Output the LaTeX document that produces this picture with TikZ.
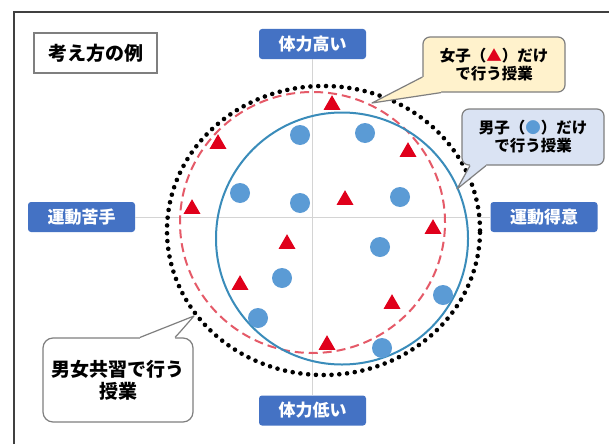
\documentclass[tikz,border=0pt]{standalone}
\usepackage{fontspec}
\newfontfamily\jp{Noto Sans CJK JP}
\usetikzlibrary{shapes.geometric}
\definecolor{labblue}{HTML}{4472C4}
\definecolor{trired}{HTML}{E0001B}
\definecolor{dotblue}{HTML}{5B9BD5}
\definecolor{ringblue}{HTML}{3A8CBA}
\definecolor{ringred}{HTML}{E55A68}
\definecolor{yelfill}{HTML}{FFF2CC}
\definecolor{bluefill}{HTML}{DAE3F3}
\definecolor{edgegray}{HTML}{7F7F7F}
\definecolor{framegray}{HTML}{404040}
\definecolor{axisgray}{HTML}{D4D4D4}
\tikzset{
  bluelab/.style={fill=labblue, text=white, rounded corners=3pt, minimum width=107pt,
    minimum height=30pt, inner sep=0pt, font=\jp\bfseries\fontsize{17}{20}\selectfont},
  tri/.style={regular polygon, regular polygon sides=3, fill=trired, inner sep=0pt, minimum size=19.6pt},
  dotc/.style={circle, fill=dotblue, inner sep=0pt, minimum size=20pt},
  callbox/.style={draw=edgegray, line width=1.2pt, rounded corners=7pt, inner sep=0pt, align=center},
  tail/.style={draw=edgegray, line width=1.2pt, line join=round},
}
\begin{document}
\begin{tikzpicture}[x=1pt,y=-1pt]
\useasboundingbox (0,0) rectangle (609,444);
\fill[white] (0,0) rectangle (609,444);
% frame (cropped on right and bottom)
\draw[framegray, line width=2.5pt] (14,444) -- (14,12) -- (609,12);

% axis labels
\node[bluelab] (hi) at (312.5,44) {体力高い};
\node[bluelab] (lo) at (312.5,410.5) {体力低い};
\node[bluelab] (weak) at (81.5,217) {運動苦手};
\node[bluelab] (strong) at (544,217) {運動得意};
\draw[axisgray, line width=1pt] (hi.south) -- (lo.north);
\draw[axisgray, line width=1pt] (weak.east) -- (strong.west);

% rings
\node[ellipse, draw=black, line width=4.6pt, line cap=round, dash pattern=on 0pt off 7.8pt,
  minimum width=313pt, minimum height=289pt, inner sep=0pt] (all) at (323.5,230.5) {};
\node[ellipse, draw=ringred, line width=2pt, dash pattern=on 9pt off 5pt,
  minimum width=265pt, minimum height=261pt, inner sep=0pt] (girls) at (312.5,222.5) {};
\node[circle, draw=ringblue, line width=2pt,
  minimum size=252pt, inner sep=0pt] (boys) at (342,238.5) {};

% triangles (girls)
\node[tri] (t1) at (332,105) {};
\node[tri] (t2) at (218,144) {};
\node[tri] (t3) at (192,209) {};
\node[tri] (t4) at (408,152) {};
\node[tri] (t5) at (345,200) {};
\node[tri] (t6) at (433,229) {};
\node[tri] (t7) at (287,244) {};
\node[tri] (t8) at (240,285) {};
\node[tri] (t9) at (392,304) {};
\node[tri] (t10) at (327,345) {};
% circles (boys)
\node[dotc] (c1) at (300,135) {};
\node[dotc] (c2) at (365,133) {};
\node[dotc] (c3) at (240,193) {};
\node[dotc] (c4) at (300,203) {};
\node[dotc] (c5) at (400,197) {};
\node[dotc] (c6) at (380,247) {};
\node[dotc] (c7) at (282,278) {};
\node[dotc] (c8) at (258,318) {};
\node[dotc] (c9) at (443,295) {};
\node[dotc] (c10) at (382,348) {};

% title box
\node[draw=edgegray, line width=1.4pt, fill=white, minimum width=123pt, minimum height=40pt,
  inner sep=0pt, font=\jp\bfseries\fontsize{19}{22}\selectfont] (title) at (95.5,53) {考え方の例};

% callout: girls only
\node[callbox, fill=yelfill, minimum width=142pt, minimum height=55pt,
  font=\jp\bfseries\fontsize{15.5}{18}\selectfont] (cg) at (494,64.5)
  {女子（{\color{trired}▲}）だけ\\で行う授業};
\coordinate (cgtip) at (372,103);
\coordinate (cga) at (422.4,77);
\coordinate (cgb) at (441,92.6);
\fill[yelfill] (cga) -- (cgtip) -- (cgb) -- (441,84) -- (424,77) -- cycle;
\draw[tail] (cga) -- (cgtip) -- (cgb);

% callout: boys only
\node[callbox, fill=bluefill, minimum width=142pt, minimum height=56pt,
  font=\jp\bfseries\fontsize{15.5}{18}\selectfont] (cb) at (533,137)
  {男子（{\color{dotblue}●}）だけ\\で行う授業};
\coordinate (cbtip) at (457,189);
\coordinate (cba) at (470,165.6);
\coordinate (cbb) at (486,165.6);
\fill[bluefill] (cba) -- (cbtip) -- (cbb) -- (486,161) -- (470,161) -- cycle;
\draw[tail] (cba) -- (cbtip) -- (cbb);

% callout: mixed
\node[callbox, fill=white, rounded corners=10pt, minimum width=150pt, minimum height=84pt,
  font=\jp\bfseries\fontsize{19}{22}\selectfont] (cm) at (118,380)
  {男女共習で行う\\授業};
\coordinate (cmtip) at (194,316);
\coordinate (cma) at (140,337.4);
\coordinate (cmk) at (180,332);
\coordinate (cmb) at (175,337.4);
\fill[white] (cma) -- (cmtip) -- (cmk) -- (cmb) -- (175,342) -- (140,342) -- cycle;
\draw[tail] (cma) -- (cmtip) -- (cmk) -- (cmb);
\end{tikzpicture}
\end{document}
